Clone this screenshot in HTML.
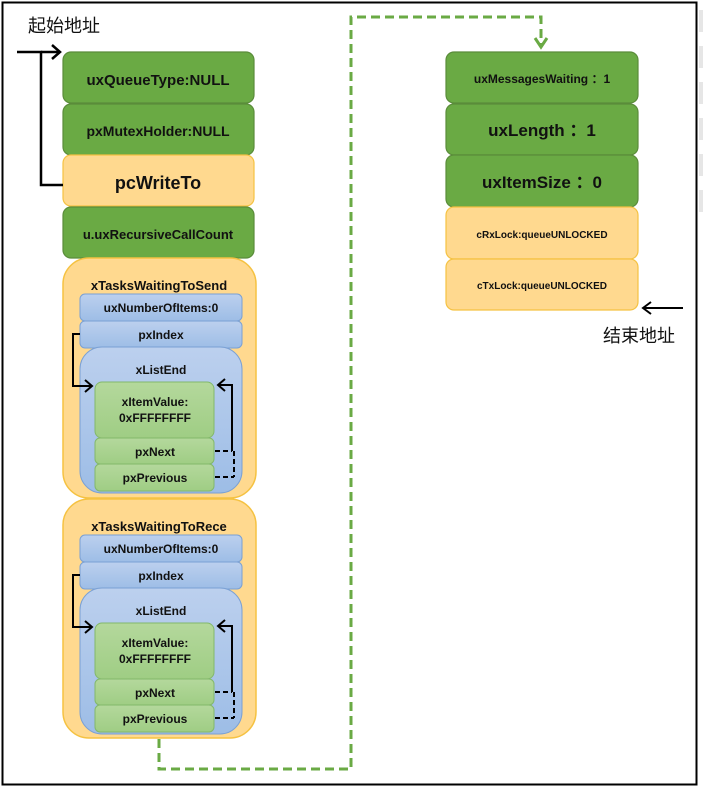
<!DOCTYPE html>
<html><head><meta charset="utf-8"><style>
html,body{margin:0;padding:0;background:#fff}
svg{display:block}
text{font-family:"Liberation Sans","Noto Sans CJK SC",sans-serif;font-weight:bold;fill:#111;text-anchor:middle}
.cn{font-family:"Noto Sans CJK SC","WenQuanYi Zen Hei",sans-serif;font-weight:normal;text-anchor:start}
</style></head><body>
<svg width="703" height="787" viewBox="0 0 703 787" xmlns="http://www.w3.org/2000/svg">
<defs>
<linearGradient id="bl" x1="0" y1="0" x2="0" y2="1"><stop offset="0" stop-color="#bcd0ee"/><stop offset="1" stop-color="#9dbde6"/></linearGradient>
<linearGradient id="gr" x1="0" y1="0" x2="0" y2="1"><stop offset="0" stop-color="#b4d89c"/><stop offset="1" stop-color="#9fcd84"/></linearGradient>
</defs>
<rect x="2.5" y="2.5" width="694" height="782" fill="#fff" stroke="#000" stroke-width="2"/>
<g fill="#e6e6e6"><rect x="699" y="10" width="4" height="22"/><rect x="699" y="46" width="4" height="22"/><rect x="699" y="82" width="4" height="22"/><rect x="699" y="118" width="4" height="22"/><rect x="699" y="154" width="4" height="22"/><rect x="699" y="190" width="4" height="22"/></g>

<text class="cn" x="28" y="32" font-size="18">起始地址</text>
<text class="cn" x="603" y="342" font-size="18">结束地址</text>

<!-- left top stack -->
<g stroke="#5a8c3a" stroke-width="1.2">
<rect x="63" y="52" width="191" height="51" rx="8" fill="#6aaa44"/>
<rect x="63" y="104" width="191" height="51" rx="8" fill="#6aaa44"/>
<rect x="63" y="155" width="191" height="51" rx="8" fill="#ffd98f" stroke="#f5c242"/>
<rect x="63" y="207" width="191" height="51" rx="8" fill="#6aaa44"/>
</g>
<text x="158" y="85" font-size="15">uxQueueType:NULL</text>
<text x="158" y="136" font-size="14">pxMutexHolder:NULL</text>
<text x="158" y="189" font-size="18">pcWriteTo</text>
<text x="158" y="239" font-size="13">u.uxRecursiveCallCount</text>
<!-- start arrow -->
<g fill="none" stroke="#000" stroke-width="2.5">
<polyline points="63,185 41,185 41,52 17,52"/>
<polyline points="41,52 60,52"/>
<polyline points="52,45 60,52 52,59"/>
</g>

<!-- list blocks -->
<g id="L1">
<rect x="63" y="258" width="193" height="240" rx="26" fill="#ffd98f" stroke="#f5c242" stroke-width="1.5"/>
<text x="159" y="290" font-size="13">xTasksWaitingToSend</text>
<rect x="80" y="294" width="162" height="27" rx="5" fill="url(#bl)" stroke="#7aa0d4"/>
<text x="161" y="312" font-size="12">uxNumberOfItems:0</text>
<rect x="80" y="321" width="162" height="27" rx="5" fill="url(#bl)" stroke="#7aa0d4"/>
<text x="161" y="339" font-size="12">pxIndex</text>
<rect x="80" y="347" width="162" height="146" rx="22" fill="url(#bl)" stroke="#7aa0d4"/>
<text x="161" y="374" font-size="12">xListEnd</text>
<rect x="95" y="382" width="119" height="56" rx="7" fill="url(#gr)" stroke="#82b86a"/>
<text x="155" y="406" font-size="12">xItemValue:</text>
<text x="155" y="422" font-size="12">0xFFFFFFFF</text>
<rect x="95" y="438" width="119" height="26" rx="5" fill="url(#gr)" stroke="#82b86a"/>
<text x="155" y="456" font-size="12">pxNext</text>
<rect x="95" y="464" width="119" height="27" rx="5" fill="url(#gr)" stroke="#82b86a"/>
<text x="155" y="482" font-size="12">pxPrevious</text>
<g fill="none" stroke="#000" stroke-width="2">
<polyline points="80,334 73,334 73,386 92,386"/>
<polyline points="85,380 92,386 85,392"/>
<polyline points="232,451 232,385 218,385"/>
<polyline points="225,379 218,385 225,391"/>
<line x1="215" y1="451" x2="232" y2="451" stroke-dasharray="5,3"/>
<line x1="234" y1="451" x2="234" y2="477" stroke-dasharray="5,3"/>
<line x1="215" y1="477" x2="234" y2="477" stroke-dasharray="5,3"/>
</g>
</g>
<g transform="translate(0,241)">
<rect x="63" y="258" width="193" height="239" rx="26" fill="#ffd98f" stroke="#f5c242" stroke-width="1.5"/>
<text x="159" y="290" font-size="13">xTasksWaitingToRece</text>
<rect x="80" y="294" width="162" height="27" rx="5" fill="url(#bl)" stroke="#7aa0d4"/>
<text x="161" y="312" font-size="12">uxNumberOfItems:0</text>
<rect x="80" y="321" width="162" height="27" rx="5" fill="url(#bl)" stroke="#7aa0d4"/>
<text x="161" y="339" font-size="12">pxIndex</text>
<rect x="80" y="347" width="162" height="146" rx="22" fill="url(#bl)" stroke="#7aa0d4"/>
<text x="161" y="374" font-size="12">xListEnd</text>
<rect x="95" y="382" width="119" height="56" rx="7" fill="url(#gr)" stroke="#82b86a"/>
<text x="155" y="406" font-size="12">xItemValue:</text>
<text x="155" y="422" font-size="12">0xFFFFFFFF</text>
<rect x="95" y="438" width="119" height="26" rx="5" fill="url(#gr)" stroke="#82b86a"/>
<text x="155" y="456" font-size="12">pxNext</text>
<rect x="95" y="464" width="119" height="27" rx="5" fill="url(#gr)" stroke="#82b86a"/>
<text x="155" y="482" font-size="12">pxPrevious</text>
<g fill="none" stroke="#000" stroke-width="2">
<polyline points="80,334 73,334 73,386 92,386"/>
<polyline points="85,380 92,386 85,392"/>
<polyline points="232,451 232,385 218,385"/>
<polyline points="225,379 218,385 225,391"/>
<line x1="215" y1="451" x2="232" y2="451" stroke-dasharray="5,3"/>
<line x1="234" y1="451" x2="234" y2="477" stroke-dasharray="5,3"/>
<line x1="215" y1="477" x2="234" y2="477" stroke-dasharray="5,3"/>
</g>
</g>

<!-- dashed green connector -->
<polyline points="159,739 159,769 351,769 351,17 541,17 541,46" fill="none" stroke="#6aaa44" stroke-width="3" stroke-dasharray="9,5"/>
<polyline points="535,38 541,47 547,38" fill="none" stroke="#6aaa44" stroke-width="3"/>

<!-- right stack -->
<g stroke="#5a8c3a" stroke-width="1.2">
<rect x="446" y="52" width="192" height="51" rx="8" fill="#6aaa44"/>
<rect x="446" y="104" width="192" height="51" rx="8" fill="#6aaa44"/>
<rect x="446" y="155" width="192" height="52" rx="8" fill="#6aaa44"/>
<rect x="446" y="207" width="192" height="52" rx="8" fill="#ffd98f" stroke="#f5c242"/>
<rect x="446" y="259" width="192" height="51" rx="8" fill="#ffd98f" stroke="#f5c242"/>
</g>
<text x="542" y="83" font-size="12">uxMessagesWaiting ：1</text>
<text x="542" y="136" font-size="17">uxLength ：1</text>
<text x="542" y="188" font-size="17">uxItemSize ：0</text>
<text x="542" y="238" font-size="10">cRxLock:queueUNLOCKED</text>
<text x="542" y="289" font-size="10">cTxLock:queueUNLOCKED</text>
<g fill="none" stroke="#000" stroke-width="2">
<line x1="643" y1="308" x2="683" y2="308"/>
<polyline points="651,302 643,308 651,314"/>
</g>
</svg>
</body></html>
